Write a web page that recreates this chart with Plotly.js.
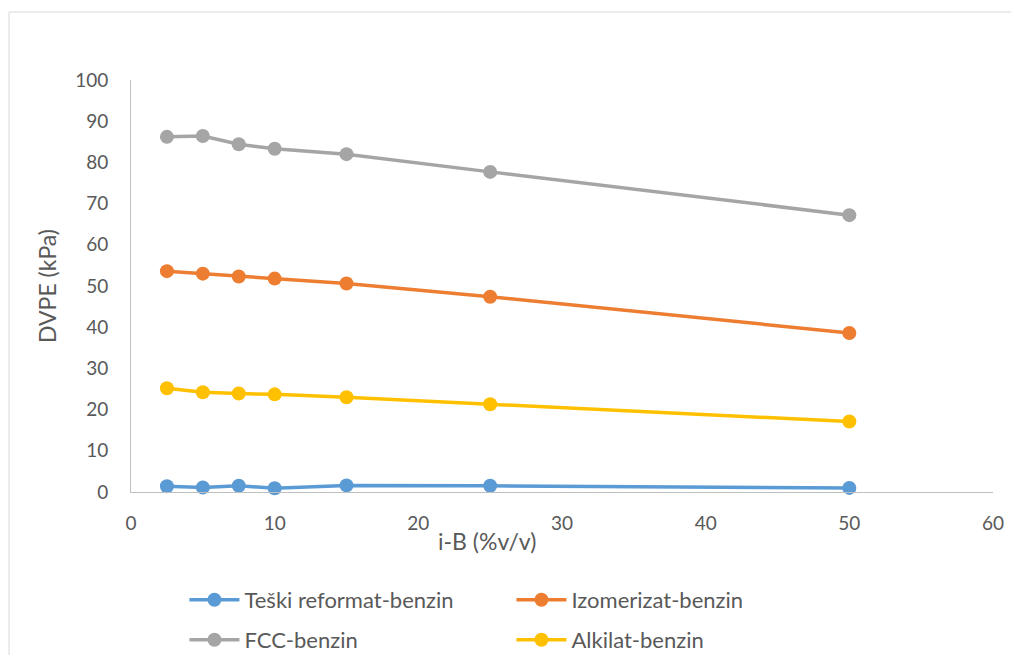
<!DOCTYPE html>
<html>
<head>
<meta charset="utf-8">
<script src="https://cdn.plot.ly/plotly-3.0.1.min.js"></script>
<style>html,body{margin:0;padding:0;background:#fff;}#chart{width:1011px;height:655px;}</style>
</head>
<body>
<div id="chart"></div>
<script>
const xValues = [2.5, 5, 7.5, 10, 15, 25, 50];
const seriesNames = ["Teški reformat-benzin", "Izomerizat-benzin", "FCC-benzin", "Alkilat-benzin"];
const teskiReformat = [1.4, 1.1, 1.5, 0.9, 1.6, 1.5, 1.0];
const izomerizat = [53.6, 53.0, 52.3, 51.8, 50.6, 47.4, 38.6];
const fcc = [86.2, 86.4, 84.4, 83.3, 82.0, 77.7, 67.2];
const alkilat = [25.2, 24.2, 23.9, 23.7, 23.0, 21.3, 17.1];
const colors = ["#5b9bd5", "#ed7d31", "#a5a5a5", "#ffc000"];
const xTicks = [0, 10, 20, 30, 40, 50, 60];
const yTicks = [0, 10, 20, 30, 40, 50, 60, 70, 80, 90, 100];

const FONT = "Lato, 'Open Sans', sans-serif";
const FS = 19;
const allY = [teskiReformat, izomerizat, fcc, alkilat];
const legendOf = ["legend", "legend", "legend2", "legend2"];
const traces = allY.map((ys, i) => ({
  x: xValues, y: ys, name: seriesNames[i], type: "scatter", mode: "lines+markers",
  line: {color: colors[i], width: 3.5}, marker: {color: colors[i], size: 14},
  cliponaxis: false, legend: legendOf[i]
}));

const legendBase = {orientation: "h", xanchor: "left", yanchor: "middle",
  entrywidth: 262, entrywidthmode: "pixels", itemwidth: 50,
  bgcolor: "rgba(0,0,0,0)", font: {family: FONT, size: 22, color: "#595959"}};

const layout = {
  width: 1011, height: 655,
  margin: {l: 131, r: 18, t: 80, b: 163, autoexpand: false},
  paper_bgcolor: "#fff", plot_bgcolor: "#fff",
  font: {family: FONT, size: FS, color: "#595959"},
  showlegend: true,
  legend: Object.assign({}, legendBase, {x: 0.062, y: -0.262}),
  legend2: Object.assign({}, legendBase, {x: 0.062, y: -0.359}),
  xaxis: {range: [0, 60], tickvals: xTicks, ticktext: xTicks.map(String),
    showgrid: false, zeroline: false, showline: true, linecolor: "#bfbfbf", linewidth: 1,
    ticks: "", ticklen: 0, ticklabelstandoff: 14,
    tickfont: {family: FONT, size: FS, color: "#595959"}, fixedrange: true},
  yaxis: {range: [0, 100], tickvals: yTicks, ticktext: yTicks.map(String),
    showgrid: false, zeroline: false, showline: true, linecolor: "#bfbfbf", linewidth: 1,
    ticks: "", ticklen: 0, ticklabelstandoff: 18,
    tickfont: {family: FONT, size: FS, color: "#595959"},
    title: {text: "DVPE (kPa)", font: {family: FONT, size: 23, color: "#595959"}, standoff: 12}},
  annotations: [{text: "i-B (%v/v)", xref: "paper", yref: "paper", x: 0.413, y: -0.119,
    xanchor: "center", yanchor: "middle", showarrow: false,
    font: {family: FONT, size: 23, color: "#595959"}}],
  shapes: [{type: "rect", xref: "paper", yref: "paper", x0: -0.1415, x1: 1.2, y0: -0.6, y1: 1.165,
    line: {color: "#d9d9d9", width: 1}, fillcolor: "rgba(0,0,0,0)", layer: "below"}]
};
Plotly.newPlot("chart", traces, layout, {displayModeBar: false, staticPlot: true});
</script>
</body>
</html>
